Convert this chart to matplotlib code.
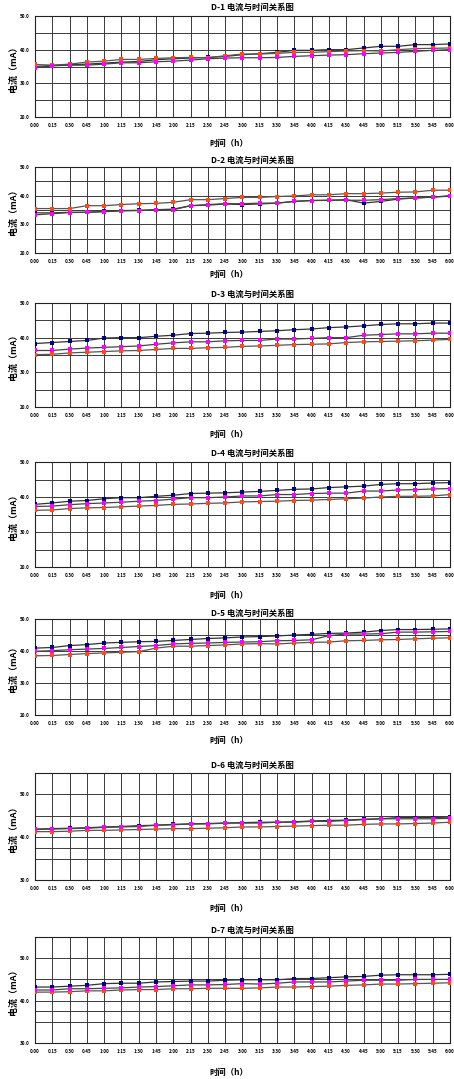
import matplotlib
matplotlib.use("Agg")
import matplotlib.pyplot as plt

plt.rcParams['font.family'] = ['Noto Sans CJK SC', 'DejaVu Sans']

# time axis, 15 min steps
times = ['0:00', '0:15', '0:30', '0:45', '1:00', '1:15', '1:30', '1:45', '2:00',
         '2:15', '2:30', '2:45', '3:00', '3:15', '3:30', '3:45', '4:00', '4:15',
         '4:30', '4:45', '5:00', '5:15', '5:30', '5:45', '6:00']

names = ['D-1', 'D-2', 'D-3', 'D-4', 'D-5', 'D-6', 'D-7']

# current (mA): blue / red / pink series
d1_blue = [35.0, 35.3, 35.5, 35.7, 36.0, 36.3, 36.5, 37.0, 37.3, 37.5, 37.7, 38.0, 38.5,
           38.8, 39.2, 39.8, 39.8, 40.0, 40.0, 40.5, 41.0, 41.0, 41.5, 41.5, 41.7]
d1_red = [35.6, 35.4, 35.7, 36.3, 36.6, 37.1, 37.1, 37.4, 37.6, 37.7, 37.6, 38.2, 38.7,
          38.7, 38.9, 39.2, 39.2, 39.4, 39.6, 39.7, 39.6, 40.0, 40.3, 40.4, 40.5]
d1_pink = [34.6, 35.2, 35.4, 35.4, 35.7, 36.1, 36.1, 36.4, 36.6, 36.9, 37.3, 37.5, 37.6,
           37.6, 37.7, 38.0, 38.2, 38.4, 38.5, 38.8, 39.0, 39.2, 39.5, 39.8, 40.0]

d2_blue = [34.0, 34.0, 34.2, 34.2, 34.5, 34.8, 34.9, 35.1, 35.3, 36.5, 36.7, 37.1, 36.9,
           37.1, 37.4, 38.0, 38.3, 38.4, 38.6, 37.4, 38.0, 38.8, 39.2, 39.5, 40.0]
d2_red = [35.5, 35.5, 35.5, 36.5, 36.5, 36.9, 37.2, 37.3, 37.7, 38.6, 38.6, 39.0, 39.4,
          39.4, 39.7, 39.9, 40.3, 40.3, 40.7, 40.7, 40.9, 41.2, 41.3, 41.9, 41.9]
d2_pink = [33.3, 33.7, 34.1, 34.2, 34.4, 34.7, 34.8, 35.0, 35.1, 36.5, 36.9, 37.2, 37.2,
           37.4, 37.4, 38.0, 38.3, 38.4, 38.4, 38.4, 38.6, 39.0, 39.2, 39.5, 39.8]

d3_blue = [38.3, 38.6, 38.9, 39.2, 39.9, 40.0, 40.0, 40.4, 40.7, 41.2, 41.3, 41.5, 41.6,
           41.8, 42.0, 42.3, 42.5, 42.9, 43.1, 43.4, 43.8, 44.0, 44.0, 44.2, 44.2]
d3_red = [35.1, 35.2, 35.6, 35.8, 36.0, 36.2, 36.3, 36.6, 36.9, 36.9, 37.1, 37.2, 37.5,
          37.6, 37.8, 38.0, 38.1, 38.2, 38.6, 38.8, 38.9, 39.0, 39.1, 39.3, 39.5]
d3_pink = [36.3, 36.3, 36.7, 37.0, 37.2, 37.4, 37.6, 38.1, 38.5, 38.8, 38.8, 39.1, 39.2,
           39.2, 39.6, 39.6, 39.8, 40.0, 40.0, 40.7, 40.9, 41.1, 41.1, 41.3, 41.3]

d4_blue = [37.9, 38.3, 38.8, 39.0, 39.5, 39.8, 39.8, 40.2, 40.5, 41.0, 41.1, 41.2, 41.4,
           41.6, 41.9, 42.2, 42.3, 42.7, 42.9, 43.1, 43.6, 43.8, 43.8, 44.0, 44.1]
d4_red = [36.2, 36.3, 36.7, 36.9, 37.0, 37.2, 37.4, 37.6, 37.9, 38.0, 38.2, 38.3, 38.6,
          38.7, 38.8, 39.0, 39.1, 39.3, 39.5, 39.7, 40.0, 40.2, 40.2, 40.3, 40.7]
d4_pink = [37.3, 37.4, 37.8, 38.1, 38.3, 38.5, 38.8, 39.0, 39.4, 39.8, 39.8, 40.0, 40.3,
           40.3, 40.7, 40.7, 41.0, 41.1, 41.1, 41.7, 41.7, 42.0, 42.1, 42.3, 42.4]

d5_blue = [40.9, 41.1, 41.7, 42.0, 42.5, 42.7, 42.9, 43.0, 43.3, 43.6, 43.9, 44.1, 44.4,
           44.5, 44.7, 45.0, 45.2, 45.5, 45.6, 45.9, 46.4, 46.7, 46.7, 46.8, 46.9]
d5_red = [38.5, 38.6, 38.9, 39.2, 39.4, 39.6, 39.8, 40.9, 41.5, 41.5, 41.7, 41.9, 42.2,
          42.3, 42.2, 42.5, 42.7, 42.8, 43.2, 43.3, 43.5, 43.6, 43.8, 44.0, 44.1]
d5_pink = [39.9, 40.1, 40.4, 40.6, 40.8, 41.1, 41.4, 41.7, 42.2, 42.4, 42.5, 42.7, 42.8,
           42.9, 43.2, 43.3, 43.5, 44.8, 45.3, 45.3, 45.4, 45.9, 45.9, 46.0, 46.1]

d6_blue = [41.9, 42.0, 42.1, 42.2, 42.4, 42.5, 42.7, 42.8, 43.0, 43.1, 43.2, 43.3, 43.4,
           43.5, 43.5, 43.6, 43.8, 43.9, 44.0, 44.2, 44.3, 44.6, 44.6, 44.6, 44.7]
d6_red = [41.3, 41.3, 41.4, 41.6, 41.6, 41.7, 41.8, 41.9, 42.0, 42.0, 42.1, 42.2, 42.4,
          42.4, 42.5, 42.6, 42.7, 42.8, 42.8, 43.0, 43.1, 43.1, 43.2, 43.3, 43.5]
d6_pink = [41.8, 41.9, 42.0, 42.1, 42.3, 42.4, 42.5, 42.8, 42.9, 43.1, 43.1, 43.3, 43.3,
           43.3, 43.5, 43.5, 43.7, 43.7, 43.9, 44.1, 44.3, 44.3, 44.3, 44.3, 44.4]

d7_blue = [43.2, 43.2, 43.4, 43.6, 44.0, 44.1, 44.1, 44.4, 44.5, 44.6, 44.6, 44.8, 44.9,
           44.9, 44.9, 45.2, 45.2, 45.4, 45.6, 45.7, 46.0, 46.1, 46.1, 46.1, 46.2]
d7_red = [42.0, 42.0, 42.1, 42.3, 42.3, 42.5, 42.6, 42.6, 42.8, 42.8, 42.9, 42.9, 42.9,
          43.0, 43.2, 43.2, 43.3, 43.4, 43.6, 43.7, 43.9, 43.9, 44.0, 44.1, 44.2]
d7_pink = [42.5, 42.5, 42.8, 42.8, 42.9, 43.0, 43.2, 43.3, 43.5, 43.7, 43.7, 43.8, 44.0,
           43.9, 44.1, 44.4, 44.4, 44.4, 44.6, 44.8, 44.8, 44.8, 45.0, 45.0, 45.0]

# y grid / labels
grid_a = [20, 25, 30, 35, 40, 45, 50]
lab_a = [20, 30, 40, 50]
grid_b = [30, 35, 37.5, 40, 45, 50, 55]
lab_b = [30, 40, 50]

panels = [
    (d1_blue, d1_red, d1_pink, grid_a, lab_a),
    (d2_blue, d2_red, d2_pink, grid_a, lab_a),
    (d3_blue, d3_red, d3_pink, grid_a, lab_a),
    (d4_blue, d4_red, d4_pink, grid_a, lab_a),
    (d5_blue, d5_red, d5_pink, grid_a, lab_a),
    (d6_blue, d6_red, d6_pink, grid_b, lab_b),
    (d7_blue, d7_red, d7_pink, grid_b, lab_b),
]

# layout in pixels: plot top, plot bottom, title y, xlabel y
W, H = 454, 1079
boxes = [(16, 117, 7, 143), (167, 253, 160, 274), (303, 407, 294, 434),
         (462, 567, 453, 595), (619, 715, 613, 740), (773, 880, 765, 908),
         (937, 1043, 930, 1072)]
L, R = 35, 450

fig = plt.figure(figsize=(W / 100, H / 100), dpi=100)

for i, (blue, red, pink, grid, labs) in enumerate(panels):
    top, bot, ty, xy = boxes[i]
    ax = fig.add_axes([L / W, 1 - bot / H, (R - L) / W, (bot - top) / H])
    x = range(len(times))
    ax.plot(x, blue, color='#333333', lw=0.9, marker='s', ms=2.2, mew=0,
            mfc='#000080', zorder=3)
    ax.plot(x, red, color='#555555', lw=0.9, marker='s', ms=2.2, mew=0,
            mfc='#ff4a1a', zorder=3)
    ax.plot(x, pink, color='#444444', lw=0.9, marker='s', ms=2.3, mew=0,
            mfc='#ff00ff', zorder=3)

    ax.set_xlim(0, len(times) - 1)
    ax.set_ylim(grid[0], grid[-1])
    ax.set_xticks(list(x))
    ax.set_xticklabels(times, fontsize=3.3, fontweight='bold')
    ax.set_yticks(grid)
    ax.set_yticklabels(['%.1f' % g if g in labs else '' for g in grid],
                       fontsize=3.3, fontweight='bold')
    ax.tick_params(length=0, pad=4)
    ax.grid(True, color='#3a3a3a', lw=0.7)
    for s in ax.spines.values():
        s.set_color('#222222')
        s.set_linewidth(0.8)

    fig.text((L + 0.523 * (R - L)) / W, 1 - ty / H, names[i] + ' 电流与时间关系图',
             ha='center', va='center', fontsize=6, fontweight='bold')
    fig.text(229 / W, 1 - xy / H, '时间（h）', ha='center', va='center',
             fontsize=6, fontweight='bold')
    fig.text(13 / W, 1 - (top + bot) / 2 / H, '电流（mA）', ha='center', va='center',
             rotation=90, fontsize=6.5, fontweight='bold')

fig.savefig('out.png', dpi=100)
